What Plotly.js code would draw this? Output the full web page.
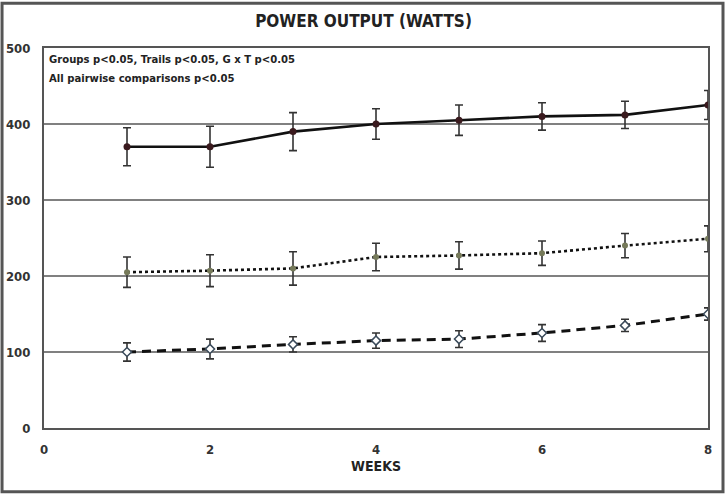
<!DOCTYPE html>
<html>
<head>
<meta charset="utf-8">
<script src="https://cdn.plot.ly/plotly-3.0.1.min.js"></script>
<style>
html,body{margin:0;padding:0;background:#fff;}
#chart{width:727px;height:495px;}
</style>
</head>
<body>
<div id="chart"></div>
<script>
var weeks = [1, 2, 3, 4, 5, 6, 7, 8];
var highValues = [370, 370, 390, 400, 405, 410, 412, 425];
var highErrors = [25, 27, 25, 20, 20, 18, 18, 19];
var midValues = [205, 207, 210, 225, 227, 230, 240, 249];
var midErrors = [20, 21, 22, 18, 18, 16, 16, 17];
var lowValues = [100, 104, 110, 115, 117, 125, 135, 150];
var lowErrors = [12, 13, 10, 10, 11, 11, 8, 8];
var xTicks = [0, 2, 4, 6, 8];
var yTicks = [0, 100, 200, 300, 400, 500];
var titleText = 'POWER OUTPUT (WATTS)';
var xTitle = 'WEEKS';
var noteLines = ['Groups p<0.05, Trails p<0.05, G x T p<0.05', 'All pairwise comparisons p<0.05'];

var condensed = '"Liberation Sans Narrow", "DejaVu Sans Condensed", "Roboto Condensed", sans-serif';

function errObj(arr) {
  return {type: 'data', array: arr, visible: true, color: '#333333', thickness: 1.6, width: 4};
}

var traces = [
  {
    x: weeks, y: highValues, type: 'scatter', mode: 'lines+markers',
    line: {color: '#111111', width: 2.6},
    marker: {color: '#3a1a1e', size: 7, symbol: 'circle'},
    error_y: errObj(highErrors)
  },
  {
    x: weeks, y: midValues, type: 'scatter', mode: 'lines+markers',
    line: {color: '#111111', width: 2.6, dash: 'dot'},
    marker: {color: '#767a5a', size: 6, symbol: 'circle'},
    error_y: errObj(midErrors)
  },
  {
    x: weeks, y: lowValues, type: 'scatter', mode: 'lines+markers',
    line: {color: '#111111', width: 3, dash: '9px,6px'},
    marker: {color: '#ffffff', size: 7, symbol: 'diamond', line: {color: '#3a4a5a', width: 1.5}},
    error_y: errObj(lowErrors)
  }
];

var noteFont = {family: condensed, size: 11.2, color: '#222222'};

var layout = {
  width: 727, height: 495,
  margin: {l: 44, r: 19, t: 48, b: 67},
  paper_bgcolor: '#ffffff', plot_bgcolor: '#ffffff',
  showlegend: false,
  title: {
    text: '<b>' + titleText + '</b>',
    font: {family: condensed, size: 17, color: '#222222'},
    x: 0.5, xanchor: 'center', y: 0.958, yanchor: 'middle'
  },
  xaxis: {
    range: [0, 8], tickvals: xTicks, ticktext: xTicks.map(function(v){return '<b>' + v + '</b>';}),
    showgrid: false, zeroline: false,
    showline: true, linecolor: '#555555', linewidth: 2, mirror: true,
    ticks: 'outside', ticklen: 8, tickcolor: 'rgba(0,0,0,0)',
    tickfont: {family: condensed, size: 13, color: '#333333'},
    title: {text: '<b>' + xTitle + '</b>', font: {family: condensed, size: 14, color: '#222222'}, standoff: 6}
  },
  yaxis: {
    range: [0, 500], tickvals: yTicks, ticktext: yTicks.map(function(v){return '<b>' + v + '</b>';}),
    showgrid: true, gridcolor: '#808080', gridwidth: 2,
    zeroline: false,
    showline: true, linecolor: '#555555', linewidth: 2, mirror: true,
    ticks: 'outside', ticklen: 9, tickcolor: 'rgba(0,0,0,0)',
    tickfont: {family: condensed, size: 13, color: '#333333'}
  },
  annotations: [
    {xref: 'paper', yref: 'paper', x: 0.004, y: 0.971, xanchor: 'left', yanchor: 'middle',
     text: '<b>' + noteLines[0] + '</b>', align: 'left', showarrow: false, font: noteFont},
    {xref: 'paper', yref: 'paper', x: 0.004, y: 0.921, xanchor: 'left', yanchor: 'middle',
     text: '<b>' + noteLines[1] + '</b>', align: 'left', showarrow: false, font: noteFont}
  ],
  shapes: [
    {type: 'rect', xref: 'paper', yref: 'paper', x0: -0.0632, x1: 1.0226, y0: -0.168, y1: 1.118,
     line: {color: '#555555', width: 3}, fillcolor: 'rgba(0,0,0,0)', layer: 'above'}
  ]
};

Plotly.newPlot('chart', traces, layout, {displayModeBar: false, staticPlot: true});
</script>
</body>
</html>
